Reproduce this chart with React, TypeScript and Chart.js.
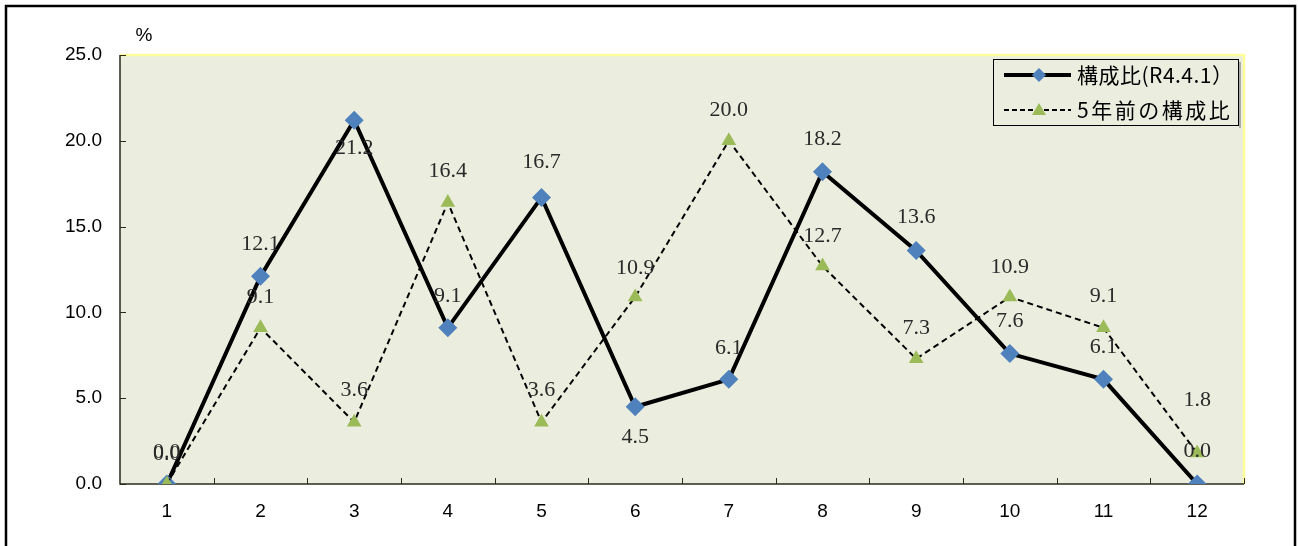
import { useEffect, useRef } from 'react';
import { Chart, registerables } from 'chart.js';

Chart.register(...registerables);

const categories = ['1', '2', '3', '4', '5', '6', '7', '8', '9', '10', '11', '12'];
const seriesNow = [0.0, 12.1, 21.2, 9.1, 16.7, 4.5, 6.1, 18.2, 13.6, 7.6, 6.1, 0.0];
const seriesPrev = [0.0, 9.1, 3.6, 16.4, 3.6, 10.9, 20.0, 12.7, 7.3, 10.9, 9.1, 1.8];
const seriesNames = ['構成比(R4.4.1）', '5年前の構成比'];
const yMin = 0;
const yMax = 25;
const yStep = 5;
const unitLabel = '%';

// label vertical offsets (px) relative to each point
const labelDyNow = [-32, -32, 28, -32, -35, 30, -31, -32, -33, -32, -32, -33];
const labelDyPrev = [-30, -31, -32, -31, -32, -29, -31, -30, -31, -30, -32, -53];

const SANS = '"Liberation Sans", Arial, sans-serif';
const SERIF = '"Liberation Serif", "DejaVu Serif", serif';
const CJK = '"Noto Sans CJK JP", "Noto Sans", sans-serif';

const PLOT_BG = '#EBEEDF';
const BLUE = '#4F81BD';
const GREEN = '#9BBB59';

function fitText(ctx: any, text: string, x: number, y: number, target: number) {
  ctx.letterSpacing = '0px';
  const w = ctx.measureText(text).width;
  const n = Array.from(text).length;
  const sp = Math.min(2.5, Math.max(0, (target - w) / Math.max(1, n - 1)));
  ctx.letterSpacing = `${sp}px`;
  ctx.fillText(text, x, y);
  ctx.letterSpacing = '0px';
}

const framePlugin = {
  id: 'framePlugin',
  beforeDraw(chart: any) {
    const { ctx, width, height, chartArea } = chart;
    ctx.save();
    ctx.fillStyle = '#fff';
    ctx.fillRect(0, 0, width, height);
    ctx.strokeStyle = '#000';
    ctx.lineWidth = 2.5;
    ctx.beginPath();
    ctx.moveTo(6, height + 5);
    ctx.lineTo(6, 6);
    ctx.lineTo(1295, 6);
    ctx.lineTo(1295, height + 5);
    ctx.stroke();
    ctx.fillStyle = PLOT_BG;
    ctx.fillRect(chartArea.left, chartArea.top, chartArea.right - chartArea.left, chartArea.bottom - chartArea.top);
    ctx.restore();
  },
  beforeDatasetsDraw(chart: any) {
    const { ctx, chartArea } = chart;
    const { left, right, top, bottom } = chartArea;
    ctx.save();
    ctx.strokeStyle = '#FFFF99';
    ctx.lineWidth = 2.5;
    ctx.beginPath();
    ctx.moveTo(left, top);
    ctx.lineTo(right, top);
    ctx.lineTo(right, bottom);
    ctx.stroke();
    ctx.strokeStyle = '#2b2b1a';
    ctx.lineWidth = 1.5;
    ctx.beginPath();
    ctx.moveTo(left, top);
    ctx.lineTo(left, bottom);
    ctx.lineTo(right, bottom);
    ctx.stroke();
    ctx.lineWidth = 1;
    const yScale = chart.scales.y;
    ctx.beginPath();
    for (let v = yMin; v <= yMax; v += yStep) {
      const y = Math.round(yScale.getPixelForValue(v)) + 0.5;
      ctx.moveTo(left, y);
      ctx.lineTo(left + 6, y);
    }
    const n = categories.length;
    const w = (right - left) / n;
    for (let i = 1; i <= n; i++) {
      const x = Math.round(left + w * i) + 0.5;
      ctx.moveTo(x, bottom);
      ctx.lineTo(x, bottom - 6);
    }
    ctx.stroke();
    ctx.restore();
  },
  afterDatasetsDraw(chart: any) {
    const { ctx } = chart;
    ctx.save();
    ctx.font = `22px ${SERIF}`;
    ctx.fillStyle = '#2a2a2a';
    ctx.textAlign = 'center';
    ctx.textBaseline = 'middle';
    const offs = [labelDyNow, labelDyPrev];
    [1, 0].forEach((di) => {
      const meta = chart.getDatasetMeta(di);
      const data = chart.data.datasets[di].data as number[];
      meta.data.forEach((pt: any, i: number) => {
        ctx.fillText(data[i].toFixed(1), pt.x, pt.y + offs[di][i]);
      });
    });
    ctx.restore();
  },
  afterDraw(chart: any) {
    const { ctx } = chart;
    ctx.save();
    ctx.font = `19px ${SANS}`;
    ctx.fillStyle = '#000';
    ctx.textAlign = 'center';
    ctx.textBaseline = 'middle';
    ctx.fillText(unitLabel, 144, 36);

    const bx = 993, by = 59, bw = 245, bh = 66;
    ctx.fillStyle = 'rgba(128,128,128,0.6)';
    ctx.fillRect(bx + bw + 1, by + 3, 2, bh);
    ctx.fillStyle = PLOT_BG;
    ctx.fillRect(bx, by, bw, bh);
    ctx.strokeStyle = '#000';
    ctx.lineWidth = 1;
    ctx.strokeRect(bx + 0.5, by + 0.5, bw, bh);

    const y1 = 75, y2 = 110;
    ctx.strokeStyle = '#000';
    ctx.lineWidth = 4;
    ctx.beginPath();
    ctx.moveTo(1004, y1);
    ctx.lineTo(1071, y1);
    ctx.stroke();
    ctx.fillStyle = BLUE;
    ctx.beginPath();
    ctx.moveTo(1039, y1 - 7);
    ctx.lineTo(1046, y1);
    ctx.lineTo(1039, y1 + 7);
    ctx.lineTo(1032, y1);
    ctx.closePath();
    ctx.fill();
    ctx.lineWidth = 2;
    ctx.setLineDash([5, 3]);
    ctx.beginPath();
    ctx.moveTo(1004, y2);
    ctx.lineTo(1071, y2);
    ctx.stroke();
    ctx.setLineDash([]);
    ctx.fillStyle = GREEN;
    ctx.beginPath();
    ctx.moveTo(1039, y2 - 7);
    ctx.lineTo(1046, y2 + 5);
    ctx.lineTo(1032, y2 + 5);
    ctx.closePath();
    ctx.fill();

    ctx.fillStyle = '#000';
    ctx.textAlign = 'left';
    ctx.font = `21px ${CJK}`;
    fitText(ctx, seriesNames[0], 1077, y1, 156);
    fitText(ctx, seriesNames[1], 1077, y2, 156);
    ctx.restore();
  },
};

export default function App() {
  const canvasRef = useRef<HTMLCanvasElement | null>(null);

  useEffect(() => {
    document.body.style.margin = '0';
    const canvas = canvasRef.current;
    if (!canvas) return;
    const chart = new Chart(canvas, {
      type: 'line',
      data: {
        labels: categories,
        datasets: [
          {
            label: seriesNames[0],
            data: seriesNow,
            borderColor: '#000',
            borderWidth: 4,
            pointStyle: 'rectRot',
            pointRadius: 9.5,
            pointBackgroundColor: BLUE,
            pointBorderColor: BLUE,
            pointBorderWidth: 0,
            tension: 0,
            order: 1,
          },
          {
            label: seriesNames[1],
            data: seriesPrev,
            borderColor: '#000',
            borderWidth: 2,
            borderDash: [6, 4],
            pointStyle: 'triangle',
            pointRadius: 8.5,
            pointBackgroundColor: GREEN,
            pointBorderColor: GREEN,
            pointBorderWidth: 0,
            tension: 0,
            order: 0,
          },
        ],
      },
      options: {
        animation: false,
        responsive: false,
        maintainAspectRatio: false,
        devicePixelRatio: 1,
        layout: { padding: { left: 0, right: 54, top: 55, bottom: 0 } },
        plugins: {
          legend: { display: false },
          tooltip: { enabled: false },
          title: { display: false },
        },
        scales: {
          x: {
            type: 'category',
            offset: true,
            grid: { display: false, drawTicks: false },
            border: { display: false },
            ticks: {
              color: '#000',
              font: { family: SANS, size: 19 },
              padding: 16,
              maxRotation: 0,
              autoSkip: false,
            },
            afterFit(scale: any) {
              scale.height = 62;
            },
          },
          y: {
            min: yMin,
            max: yMax,
            grid: { display: false, drawTicks: false },
            border: { display: false },
            ticks: {
              stepSize: yStep,
              color: '#000',
              font: { family: SANS, size: 19 },
              padding: 18,
              callback: (v: any) => Number(v).toFixed(1),
            },
            afterFit(scale: any) {
              scale.width = 120;
            },
          },
        },
      },
      plugins: [framePlugin],
    });
    return () => chart.destroy();
  }, []);

  return (
    <div style={{ position: 'fixed', left: 0, top: 0, width: 1298, height: 546, overflow: 'hidden', background: '#fff' }}>
      <canvas ref={canvasRef} width={1298} height={546} style={{ display: 'block', width: 1298, height: 546 }} />
    </div>
  );
}
